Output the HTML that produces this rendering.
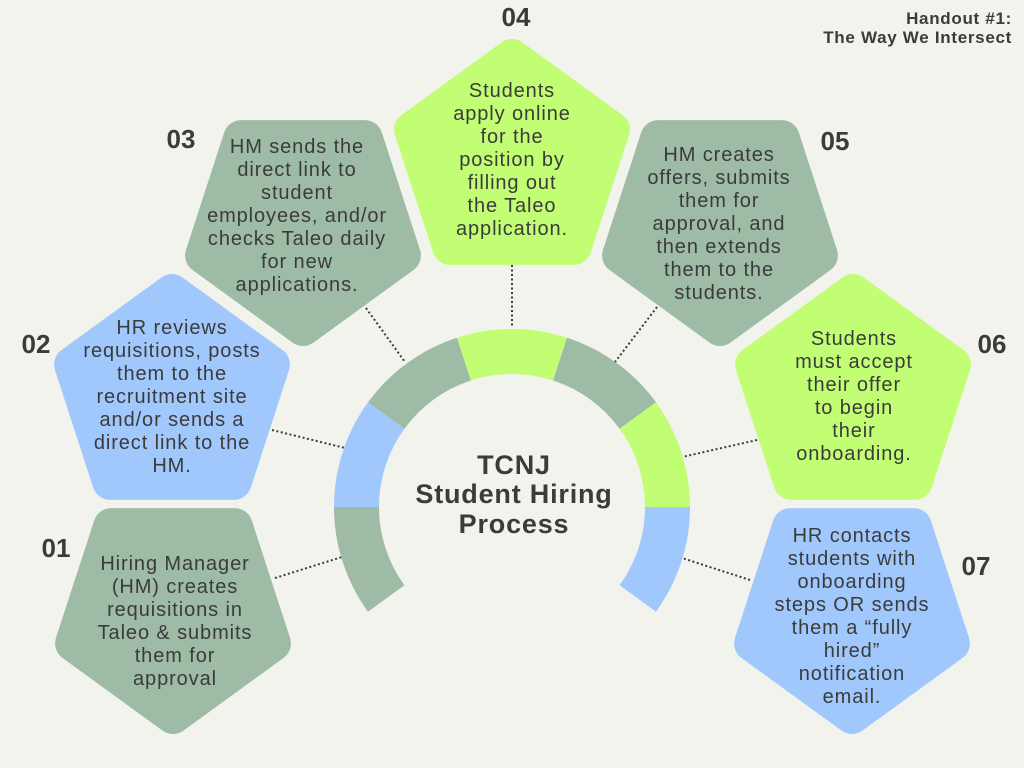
<!DOCTYPE html>
<html><head><meta charset="utf-8"><style>
html,body{margin:0;padding:0;background:#f2f3ec;}
svg{display:block;}
text{font-family:"Liberation Sans",sans-serif;fill:#3b3b3b;}
.t{font-size:20px;text-anchor:middle;letter-spacing:0.9px;}
.n{font-size:26px;font-weight:bold;text-anchor:middle;}
</style></head><body>
<svg width="1024" height="768" viewBox="0 0 1024 768" xmlns="http://www.w3.org/2000/svg">
<rect width="1024" height="768" fill="#f2f3ec"/>
<defs>
<polygon id="up" points="0,-105 99.9,-32.4 61.7,84.9 -61.7,84.9 -99.9,-32.4" stroke-width="36" stroke-linejoin="round"/>
<polygon id="dn" points="0,105 99.9,32.4 61.7,-84.9 -61.7,-84.9 -99.9,32.4" stroke-width="36" stroke-linejoin="round"/>
</defs>
<g stroke="#3b3b3b" stroke-width="2" stroke-dasharray="2,2.5" fill="none">
<line x1="275" y1="578" x2="342" y2="557"/>
<line x1="272" y1="430" x2="345" y2="448"/>
<line x1="366" y1="308" x2="405" y2="362"/>
<line x1="512" y1="265" x2="512" y2="327"/>
<line x1="657" y1="307" x2="615" y2="362"/>
<line x1="757" y1="440" x2="682" y2="457"/>
<line x1="750" y1="580" x2="682" y2="558"/>
</g>
<use href="#dn" x="173" y="611" fill="#9dbba5" stroke="#9dbba5"/>
<use href="#up" x="172" y="397" fill="#a0c8fd" stroke="#a0c8fd"/>
<use href="#dn" x="303" y="223" fill="#9dbba5" stroke="#9dbba5"/>
<use href="#up" x="512" y="162" fill="#c2fe74" stroke="#c2fe74"/>
<use href="#dn" x="720" y="223" fill="#9dbba5" stroke="#9dbba5"/>
<use href="#up" x="853" y="397" fill="#c2fe74" stroke="#c2fe74"/>
<use href="#dn" x="852" y="611" fill="#a0c8fd" stroke="#a0c8fd"/>
<path d="M368,611.7 A178,178 0 0 1 334,507 L379,507 A133,133 0 0 0 404.4,585.2 Z" fill="#9dbba5"/>
<path d="M334,507 A178,178 0 0 1 368,402.3 L404.4,428.8 A133,133 0 0 0 379,507 Z" fill="#a0c8fd"/>
<path d="M368,402.3 A178,178 0 0 1 457,337.7 L470.9,380.5 A133,133 0 0 0 404.4,428.8 Z" fill="#9dbba5"/>
<path d="M457,337.7 A178,178 0 0 1 567,337.7 L553.1,380.5 A133,133 0 0 0 470.9,380.5 Z" fill="#c2fe74"/>
<path d="M567,337.7 A178,178 0 0 1 656,402.3 L619.6,428.8 A133,133 0 0 0 553.1,380.5 Z" fill="#9dbba5"/>
<path d="M656,402.3 A178,178 0 0 1 690,507 L645,507 A133,133 0 0 0 619.6,428.8 Z" fill="#c2fe74"/>
<path d="M690,507 A178,178 0 0 1 656,611.7 L619.6,585.2 A133,133 0 0 0 645,507 Z" fill="#a0c8fd"/>
<g font-weight="bold" font-size="27" text-anchor="middle" letter-spacing="0.8">
<text x="514" y="474">TCNJ</text>
<text x="514" y="503">Student Hiring</text>
<text x="514" y="533">Process</text>
</g>
<text x="1012" y="24" font-size="17" font-weight="bold" text-anchor="end" letter-spacing="0.7">Handout #1:</text>
<text x="1012" y="43" font-size="17" font-weight="bold" text-anchor="end" letter-spacing="0.7">The Way We Intersect</text>
<text class="n" x="516" y="26">04</text>
<text class="n" x="181" y="148">03</text>
<text class="n" x="835" y="150">05</text>
<text class="n" x="36" y="353">02</text>
<text class="n" x="992" y="353">06</text>
<text class="n" x="56" y="557">01</text>
<text class="n" x="976" y="575">07</text>
<g>
<text class="t" x="512" y="97">Students</text>
<text class="t" x="512" y="120">apply online</text>
<text class="t" x="512" y="143">for the</text>
<text class="t" x="512" y="166">position by</text>
<text class="t" x="512" y="189">filling out</text>
<text class="t" x="512" y="212">the Taleo</text>
<text class="t" x="512" y="235">application.</text>

<text class="t" x="297" y="153">HM sends the</text>
<text class="t" x="297" y="176">direct link to</text>
<text class="t" x="297" y="199">student</text>
<text class="t" x="297" y="222">employees, and/or</text>
<text class="t" x="297" y="245">checks Taleo daily</text>
<text class="t" x="297" y="268">for new</text>
<text class="t" x="297" y="291">applications.</text>

<text class="t" x="719" y="161">HM creates</text>
<text class="t" x="719" y="184">offers, submits</text>
<text class="t" x="719" y="207">them for</text>
<text class="t" x="719" y="230">approval, and</text>
<text class="t" x="719" y="253">then extends</text>
<text class="t" x="719" y="276">them to the</text>
<text class="t" x="719" y="299">students.</text>

<text class="t" x="172" y="334">HR reviews</text>
<text class="t" x="172" y="357">requisitions, posts</text>
<text class="t" x="172" y="380">them to the</text>
<text class="t" x="172" y="403">recruitment site</text>
<text class="t" x="172" y="426">and/or sends a</text>
<text class="t" x="172" y="449">direct link to the</text>
<text class="t" x="172" y="472">HM.</text>

<text class="t" x="854" y="345">Students</text>
<text class="t" x="854" y="368">must accept</text>
<text class="t" x="854" y="391">their offer</text>
<text class="t" x="854" y="414">to begin</text>
<text class="t" x="854" y="437">their</text>
<text class="t" x="854" y="460">onboarding.</text>

<text class="t" x="175" y="570">Hiring Manager</text>
<text class="t" x="175" y="593">(HM) creates</text>
<text class="t" x="175" y="616">requisitions in</text>
<text class="t" x="175" y="639">Taleo &amp; submits</text>
<text class="t" x="175" y="662">them for</text>
<text class="t" x="175" y="685">approval</text>

<text class="t" x="852" y="542">HR contacts</text>
<text class="t" x="852" y="565">students with</text>
<text class="t" x="852" y="588">onboarding</text>
<text class="t" x="852" y="611">steps OR sends</text>
<text class="t" x="852" y="634">them a “fully</text>
<text class="t" x="852" y="657">hired”</text>
<text class="t" x="852" y="680">notification</text>
<text class="t" x="852" y="703">email.</text>
</g>
</svg>
</body></html>
